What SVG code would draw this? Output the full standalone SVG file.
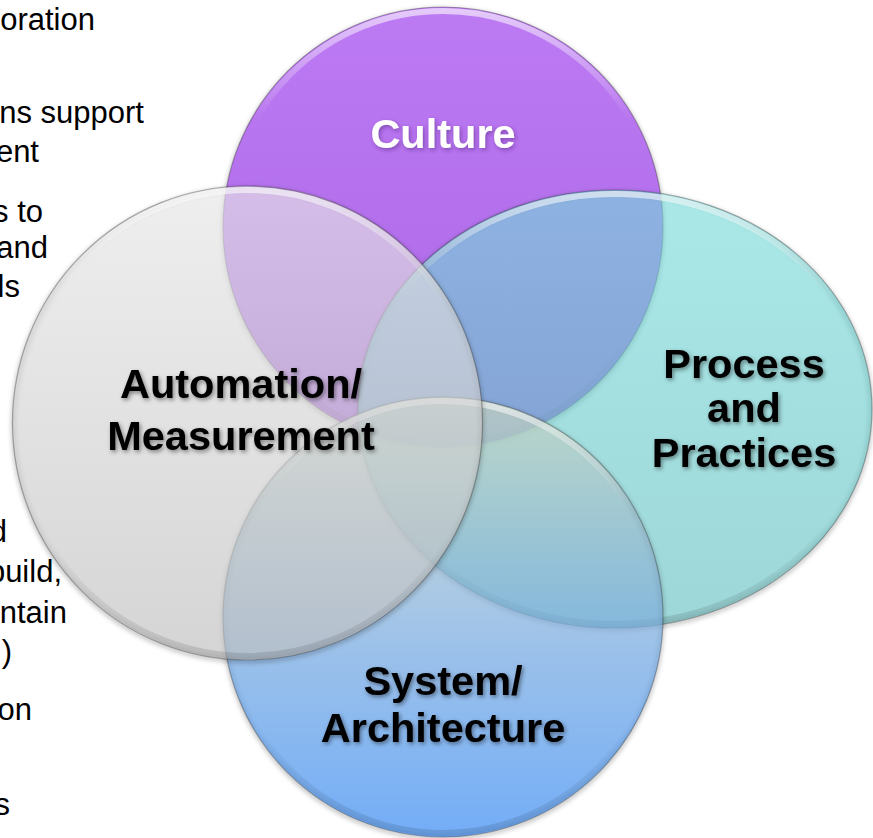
<svg xmlns="http://www.w3.org/2000/svg" width="873" height="838" viewBox="0 0 873 838">
<style>
  .frag { font-family: "Liberation Sans", Arial, sans-serif; font-size: 31px; fill: #000; text-anchor: end; }
  .lbl { font-family: "Liberation Sans", Arial, sans-serif; font-size: 41.5px; font-weight: bold; text-anchor: middle; }
  .dark { fill: #000; filter: url(#txtShadow); }
  .light { fill: #fff; filter: url(#txtShadowP); }
  .outline { stroke: rgba(40,40,40,0.35); stroke-width: 1.2; }
  .rim { fill: none; stroke: url(#rim); stroke-width: 6; }
  .shade { fill: none; stroke: rgba(0,0,0,0.35); stroke-width: 3; filter: url(#blur); }
</style>
<defs>
  <linearGradient id="purpleFill" x1="0" y1="0" x2="0" y2="1">
    <stop offset="0" stop-color="rgb(188,122,243)"/>
    <stop offset="1" stop-color="rgb(172,102,230)"/>
  </linearGradient>
  <linearGradient id="tealFill" x1="0" y1="0" x2="0" y2="1">
    <stop offset="0" stop-color="rgb(118,218,218)"/>
    <stop offset="1" stop-color="rgb(98,190,192)"/>
  </linearGradient>
  <linearGradient id="blueFill" x1="0" y1="0" x2="0" y2="1">
    <stop offset="0" stop-color="rgb(200,212,190)"/>
    <stop offset="0.6" stop-color="rgb(110,165,226)"/>
    <stop offset="1" stop-color="rgb(55,138,243)"/>
  </linearGradient>
  <linearGradient id="greyFill" x1="0" y1="0" x2="0" y2="1">
    <stop offset="0" stop-color="rgb(230,230,230)"/>
    <stop offset="1" stop-color="rgb(190,190,190)"/>
  </linearGradient>
  <linearGradient id="rim" x1="0" y1="0" x2="0" y2="1">
    <stop offset="0" stop-color="#fff" stop-opacity="0.6"/>
    <stop offset="0.25" stop-color="#fff" stop-opacity="0"/>
    <stop offset="0.75" stop-color="#000" stop-opacity="0"/>
    <stop offset="1" stop-color="#000" stop-opacity="0.12"/>
  </linearGradient>
  <filter id="blur" x="-10%" y="-10%" width="120%" height="120%">
    <feGaussianBlur stdDeviation="2.5"/>
  </filter>
  <filter id="txtShadow" x="-10%" y="-30%" width="120%" height="160%">
    <feDropShadow dx="1.5" dy="2" stdDeviation="2" flood-color="#000" flood-opacity="0.45"/>
  </filter>
  <filter id="txtShadowP" x="-10%" y="-30%" width="120%" height="160%">
    <feDropShadow dx="1.5" dy="2" stdDeviation="2" flood-color="#4a1a78" flood-opacity="0.5"/>
  </filter>
</defs>
<rect width="873" height="838" fill="#fff"/>
<g id="side-text">
  <text class="frag" x="95" y="30">oration</text>
  <text class="frag" x="144" y="123">ns support</text>
  <text class="frag" x="39" y="162">ent</text>
  <text class="frag" x="43" y="222">s to</text>
  <text class="frag" x="48" y="258">and</text>
  <text class="frag" x="20" y="297">ls</text>
  <text class="frag" x="7" y="542">d</text>
  <text class="frag" x="62" y="582">build,</text>
  <text class="frag" x="67" y="623">ntain</text>
  <text class="frag" x="12" y="662">)</text>
  <text class="frag" x="32" y="720">on</text>
  <text class="frag" x="10" y="815">s</text>
</g>
<g id="connectors"></g>
<g id="culture">
  <circle class="shade" cx="443" cy="229" r="219"/>
  <circle class="outline" cx="443" cy="227" r="220" fill="url(#purpleFill)"/>
  <circle class="rim" cx="443" cy="227" r="216"/>
  <text class="lbl light" x="443" y="148">Culture</text>
</g>
<g id="process">
  <ellipse class="shade" cx="615" cy="411" rx="256" ry="218"/>
  <ellipse class="outline" cx="615" cy="409" rx="257" ry="219" fill="url(#tealFill)" fill-opacity="0.62"/>
  <ellipse class="rim" cx="615" cy="409" rx="253" ry="215"/>
  <text class="lbl dark" x="744" y="378">Process</text>
  <text class="lbl dark" x="744" y="422">and</text>
  <text class="lbl dark" x="744" y="467">Practices</text>
</g>
<g id="system">
  <circle class="shade" cx="443" cy="619" r="219"/>
  <circle class="outline" cx="443" cy="617" r="220" fill="url(#blueFill)" fill-opacity="0.7"/>
  <circle class="rim" cx="443" cy="617" r="216"/>
  <text class="lbl dark" x="443" y="695">System/</text>
  <text class="lbl dark" x="443" y="742">Architecture</text>
</g>
<g id="automation">
  <ellipse class="shade" cx="247.5" cy="425" rx="234" ry="236"/>
  <ellipse class="outline" cx="247.5" cy="423" rx="235" ry="237" fill="url(#greyFill)" fill-opacity="0.65"/>
  <ellipse class="rim" cx="247.5" cy="423" rx="231" ry="233"/>
  <text class="lbl dark" x="241" y="398">Automation/</text>
  <text class="lbl dark" x="241" y="450">Measurement</text>
</g>
</svg>
